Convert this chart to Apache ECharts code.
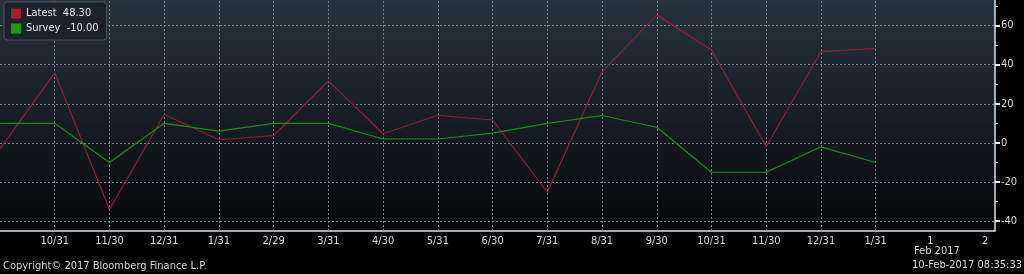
<!DOCTYPE html>
<html>
<head>
<meta charset="utf-8">
<script src="https://cdn.jsdelivr.net/npm/echarts@6/dist/echarts.min.js"></script>
<style>
html,body{margin:0;padding:0;background:#000;}
#c{width:1024px;height:274px;}
</style>
</head>
<body>
<div id="c"></div>
<script>
const categories = ['9/30','10/31','11/30','12/31','1/31','2/29','3/31','4/30','5/31','6/30','7/31','8/31','9/30','10/31','11/30','12/31','1/31','1','2'];
const latest = [-3, 35.8, -34, 14.5, 1.6, 3.7, 31.7, 4.7, 14.1, 11.7, -25.2, 36.3, 65.4, 47.4, -1.8, 46.6, 48.3];
const survey = [10, 10, -10, 10, 6, 10, 10, 2, 2, 5, 10, 14, 8, -15, -15, -2, -10];
const yMajorTicks = [-40, -20, 0, 20, 40, 60];
const yMinorTicks = [-30, -10, 10, 30, 50, 70];
const gridCategories = [1,2,3,4,5,6,7,8,9,10,11,12,13,14,15,16];
const periodLabel = 'Feb 2017';
const copyright = 'Copyright\u00a9 2017 Bloomberg Finance L.P.';
const timestamp = '10-Feb-2017 08:35:33';

const FONT = "'DejaVu Sans Condensed', 'DejaVu Sans', sans-serif";
const chart = echarts.init(document.getElementById('c'));
const toPairs = arr => arr.map((v, i) => [i, v]);
const lastVal = { Latest: latest[latest.length - 1], Survey: survey[survey.length - 1] };

chart.setOption({
  backgroundColor: '#000',
  animation: false,
  grid: {
    left: 0, right: 29, top: 0, bottom: 43,
    show: true,
    borderWidth: 0,
    backgroundColor: new echarts.graphic.LinearGradient(0, 0, 0, 1, [
      { offset: 0, color: '#27333d' },
      { offset: 1, color: '#06080a' }
    ])
  },
  legend: {
    left: 4, top: 2,
    orient: 'vertical',
    icon: 'rect',
    itemWidth: 10, itemHeight: 10, itemGap: 4,
    padding: [6, 8, 6, 7],
    backgroundColor: '#1b2229',
    borderColor: '#4a555f',
    borderWidth: 1,
    borderRadius: 3,
    textStyle: { color: '#e8e8e8', fontSize: 11, fontFamily: FONT },
    formatter: name => name + '  ' + lastVal[name].toFixed(2),
    data: ['Latest', 'Survey']
  },
  xAxis: {
    type: 'value',
    min: 0, max: 18.18, interval: 1,
    axisLine: { show: true, onZero: false, lineStyle: { color: '#e0e0e0', width: 1.5 } },
    axisTick: { show: false },
    splitLine: { show: false },
    axisLabel: {
      color: '#d8d8d8', fontSize: 11, fontFamily: FONT, margin: 5,
      showMaxLabel: false, showMinLabel: false,
      formatter: v => (Number.isInteger(v) && v > 0 && v < categories.length) ? categories[v] : ''
    }
  },
  yAxis: [{
    type: 'value',
    position: 'right',
    min: -45, max: 73,
    axisLine: { show: true, onZero: false, lineStyle: { color: '#e0e0e0', width: 1.5 } },
    axisTick: { show: true, customValues: yMajorTicks, length: 5, lineStyle: { color: '#f0f0f0', width: 2 } },
    axisLabel: { customValues: yMajorTicks, color: '#d8d8d8', fontSize: 11, fontFamily: FONT, margin: 6 },
    splitLine: { show: true, lineStyle: { color: '#7c838b', type: [2, 2], width: 1 } }
  }, {
    type: 'value',
    position: 'right',
    min: -45, max: 73,
    axisLine: { show: false, onZero: false },
    axisTick: { show: true, customValues: yMinorTicks, length: 3, lineStyle: { color: '#c8c8c8', width: 1 } },
    axisLabel: { show: false, customValues: yMinorTicks },
    splitLine: { show: false }
  }],
  series: [{
    name: 'Latest',
    type: 'line',
    data: toPairs(latest),
    symbol: 'none',
    z: 3,
    itemStyle: { color: '#b01a2e' },
    lineStyle: { color: '#8e1f33', width: 1.2 },
    markLine: {
      silent: true,
      z: 1,
      symbol: 'none',
      label: { show: false },
      lineStyle: { color: '#7c838b', type: [2, 2], width: 1 },
      data: gridCategories.map(i => ({ xAxis: i }))
    }
  }, {
    name: 'Survey',
    type: 'line',
    data: toPairs(survey),
    symbol: 'none',
    z: 3,
    itemStyle: { color: '#16a016' },
    lineStyle: { color: '#1c8c1c', width: 1.2 }
  }],
  graphic: [
    { type: 'text', left: 914, top: 246, style: { text: periodLabel, fill: '#d8d8d8', font: '11px ' + FONT } },
    { type: 'text', left: 3, top: 261, style: { text: copyright, fill: '#d8d8d8', font: '11px ' + FONT } },
    { type: 'text', right: 2, top: 260, style: { text: timestamp, fill: '#d8d8d8', font: '11px ' + FONT } }
  ]
});
</script>
</body>
</html>
